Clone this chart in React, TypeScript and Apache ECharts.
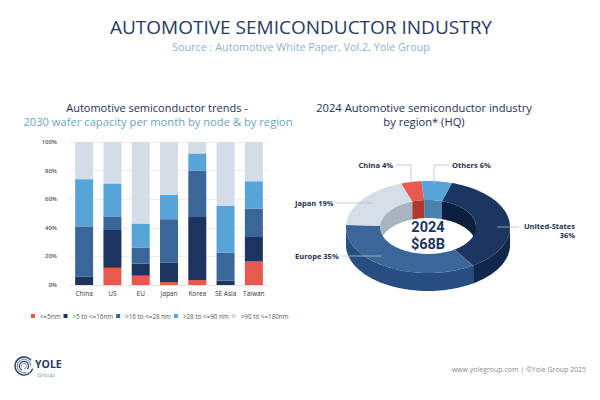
import React, { useEffect, useRef } from 'react';
import * as echarts from 'echarts';

// ---- Bar chart data (share of 2030 wafer capacity, %) ----
const regions = ['China', 'US', 'EU', 'Japan', 'Korea', 'SE Asia', 'Taiwan'];
const nodeNames = ['<=5nm', '>5 to <=16nm', '>16 to <=28 nm', '>28 to <=90 nm', '>90 to <=180nm'];
const node5 = [0, 12, 6.5, 2, 3.5, 0, 16.5];
const node16 = [6, 27, 8.5, 13.5, 44, 3, 17];
const node28 = [35, 9, 11, 30.5, 32.5, 19.5, 20];
const node90 = [33, 23, 17, 17, 12, 33, 19];
const node180 = [26, 29, 57, 37, 8, 44.5, 27.5];
const yTicks = [0, 20, 40, 60, 80, 100];

// ---- Donut data (2024 industry by HQ region, %) ----
const hqRegions = ['United-States', 'Europe', 'Japan', 'China', 'Others'];
const hqShares = [36, 35, 19, 4, 6];
const totalYear = '2024';
const totalValue = '$68B';

// ---- styles ----
const nodeColors = ['#e65a4e', '#1b3560', '#3b6699', '#58a4d8', '#d3dde8'];
const topColors = ['#1b3660', '#3b6699', '#d4dee8', '#e55a4d', '#58a4d8'];
const sideColors = ['#10284c', '#284d80', '#b0bccb', '#b33a30', '#3f7fb0'];
const innerColors = ['#0c1f3e', '#2f5a8c', '#a9b4c0', '#b2372e', '#4a82ad'];
const FONT = 'Open Sans';

// donut geometry
const CX = 428, CY = 227, RX = 82, RY = 46, IRX = 48, IRY = 27, H = 18;
const START = 17;

// label layout for donut (positions only)
const labelLayout = [
  { x: 575, y: 230, align: 'right', twoLine: true, line: [[497, 227], [519, 227]] },
  { x: 295, y: 256, align: 'left', line: [[342, 256], [382, 256]] },
  { x: 295, y: 203, align: 'left', line: [[335, 203], [372, 203]] },
  { x: 393, y: 165, align: 'right', line: [[396, 165], [411, 165], [411, 183]] },
  { x: 452, y: 165, align: 'left', line: [[449, 165], [434, 165], [434, 184]] },
];

function pt(theta: number, rx: number, ry: number, yOff: number) {
  const r = (theta * Math.PI) / 180;
  return [CX + rx * Math.sin(r), CY - ry * Math.cos(r) + yOff];
}
function arc(a1: number, a2: number, rx: number, ry: number, yOff: number) {
  const n = Math.max(2, Math.ceil(Math.abs(a2 - a1) / 1.5));
  const pts: number[][] = [];
  for (let i = 0; i <= n; i++) pts.push(pt(a1 + ((a2 - a1) * i) / n, rx, ry, yOff));
  return pts;
}
const totalShare = hqShares.reduce((a, b) => a + b, 0);
function sliceAngles(i: number) {
  let s = 0;
  for (let j = 0; j < i; j++) s += hqShares[j];
  const a1 = START + (360 * s) / totalShare;
  const a2 = a1 + (360 * hqShares[i]) / totalShare;
  return [a1, a2];
}
function intersect(a1: number, a2: number, ranges: number[][]) {
  const out: number[][] = [];
  ranges.forEach(([r1, r2]) => {
    const b1 = Math.max(a1, r1), b2 = Math.min(a2, r2);
    if (b2 > b1) out.push([b1, b2]);
  });
  return out;
}

function makeDonutSeries(kind: 'inner' | 'outer' | 'top', z: number) {
  return {
    type: 'custom',
    coordinateSystem: 'none',
    silent: true,
    z,
    data: hqShares,
    renderItem: (params: any) => {
      const i = params.dataIndex;
      const [a1, a2] = sliceAngles(i);
      const children: any[] = [];
      if (kind === 'top') {
        const pts = arc(a1, a2, RX, RY, 0).concat(arc(a2, a1, IRX, IRY, 0));
        children.push({ type: 'polygon', shape: { points: pts }, style: { fill: topColors[i] } });
      } else if (kind === 'outer') {
        intersect(a1, a2, [[90, 270], [450, 630]]).forEach(([b1, b2]) => {
          const pts = arc(b1, b2, RX, RY, 0).concat(arc(b2, b1, RX, RY, H));
          children.push({ type: 'polygon', shape: { points: pts }, style: { fill: sideColors[i] } });
        });
      } else {
        intersect(a1, a2, [[-90, 90], [270, 450]]).forEach(([b1, b2]) => {
          const pts = arc(b1, b2, IRX, IRY, 0).concat(arc(b2, b1, IRX, IRY, H));
          children.push({ type: 'polygon', shape: { points: pts }, style: { fill: innerColors[i] } });
        });
      }
      return { type: 'group', children };
    },
  };
}

function textAt(x: number, y: number, text: string, font: string, fill: string, z = 0, align = 'center') {
  return {
    type: 'text',
    x,
    y,
    z,
    style: { text, font, fill, align, verticalAlign: 'middle' },
  };
}

export default function App() {
  const ref = useRef<HTMLDivElement>(null);
  useEffect(() => {
    if (!ref.current) return;
    const chart = echarts.init(ref.current, null, { renderer: 'svg' });
    const nodeSeries = [node5, node16, node28, node90, node180];

    const labelGraphics: any[] = [];
    hqRegions.forEach((name, i) => {
      const L = labelLayout[i];
      labelGraphics.push({
        type: 'polyline',
        silent: true,
        z: 10,
        shape: { points: L.line },
        style: { stroke: '#b9bec6', lineWidth: 0.8, fill: 'none' },
      });
      labelGraphics.push({
        type: 'text',
        z: 10,
        x: L.x,
        y: L.y,
        style: {
          text: L.twoLine ? `${name}\n${hqShares[i]}%` : `${name} ${hqShares[i]}%`,
          fill: '#1e2f52',
          font: `bold 7.5px "${FONT}"`,
          align: L.align,
          verticalAlign: 'middle',
          lineHeight: 9,
        },
      });
    });

    const option: any = {
      animation: false,
      backgroundColor: '#ffffff',
      textStyle: { fontFamily: FONT },
      grid: { left: 70, right: 332, top: 142, bottom: 115 },
      legend: {
        data: nodeNames,
        left: 26,
        top: 308,
        icon: 'rect',
        itemWidth: 4,
        itemHeight: 4,
        itemGap: 3,
        textStyle: { fontSize: 6.3, color: '#555', fontFamily: FONT },
      },
      xAxis: {
        type: 'category',
        data: regions,
        axisTick: { show: false },
        axisLine: { lineStyle: { color: '#e2e2e2' } },
        axisLabel: { fontSize: 6.5, color: '#333', margin: 5, fontFamily: FONT },
      },
      yAxis: {
        type: 'value',
        min: yTicks[0],
        max: yTicks[yTicks.length - 1],
        interval: yTicks[1] - yTicks[0],
        axisLabel: { formatter: '{value}%', fontSize: 6, color: '#555', margin: 13, fontWeight: 600, fontFamily: FONT },
        splitLine: { lineStyle: { color: '#ececec', width: 1 } },
        axisLine: { show: false },
        axisTick: { show: false },
      },
      series: [
        ...nodeSeries.map((d, i) => ({
          name: nodeNames[i],
          type: 'bar',
          stack: 'cap',
          barWidth: 18,
          data: d,
          itemStyle: { color: nodeColors[i] },
        })),
        makeDonutSeries('inner', 1),
        makeDonutSeries('outer', 2),
        makeDonutSeries('top', 3),
      ],
      graphic: [
        textAt(301, 27, 'AUTOMOTIVE SEMICONDUCTOR INDUSTRY', `19px "${FONT}"`, '#27395f'),
        textAt(301, 46, 'Source : Automotive White Paper, Vol.2, Yole Group', `10.8px "${FONT}"`, '#8fb1cb'),
        textAt(157, 107.5, 'Automotive semiconductor trends -', `11px "${FONT}"`, '#1e2f52'),
        textAt(158, 121.5, '2030 wafer capacity per month by node & by region', `11.2px "${FONT}"`, '#6aa5c3'),
        textAt(424, 107.5, '2024 Automotive semiconductor industry', `11.2px "${FONT}"`, '#1e2f52'),
        textAt(424, 121.5, 'by region* (HQ)', `11.2px "${FONT}"`, '#1e2f52'),
        textAt(428, 227, totalYear, `bold 14.5px Roboto`, '#1b3560', 10),
        textAt(428, 244.5, totalValue, `bold 14.5px Roboto`, '#1b3560', 10),
        ...labelGraphics,
        // logo
        { type: 'arc', shape: { cx: 24, cy: 366, r: 9, startAngle: 0.3, endAngle: 5.6 }, style: { stroke: '#2a3a5e', lineWidth: 1.3, fill: 'none' } },
        { type: 'arc', shape: { cx: 24, cy: 366, r: 6.8, startAngle: 1.2, endAngle: 6.2 }, style: { stroke: '#6f9bb8', lineWidth: 1.2, fill: 'none' } },
        { type: 'arc', shape: { cx: 24, cy: 366, r: 4.6, startAngle: 2.0, endAngle: 7.0 }, style: { stroke: '#2a3a5e', lineWidth: 1.1, fill: 'none' } },
        { type: 'arc', shape: { cx: 24, cy: 366, r: 2.5, startAngle: 2.8, endAngle: 7.8 }, style: { stroke: '#6f9bb8', lineWidth: 1, fill: 'none' } },
        textAt(35, 363.5, 'YOLE', `bold 10.5px "${FONT}"`, '#27395f', 0, 'left'),
        textAt(37, 375, 'Group', `6px "${FONT}"`, '#6f9bb8', 0, 'left'),
        textAt(586, 369, 'www.yolegroup.com | ©Yole Group 2025', `7px "${FONT}"`, '#8a8a8a', 0, 'right'),
      ],
    };
    chart.setOption(option);
    return () => chart.dispose();
  }, []);
  return (
    <div
      ref={ref}
      style={{ position: 'fixed', left: 0, top: 0, width: 600, height: 400, background: '#fff' }}
    />
  );
}
